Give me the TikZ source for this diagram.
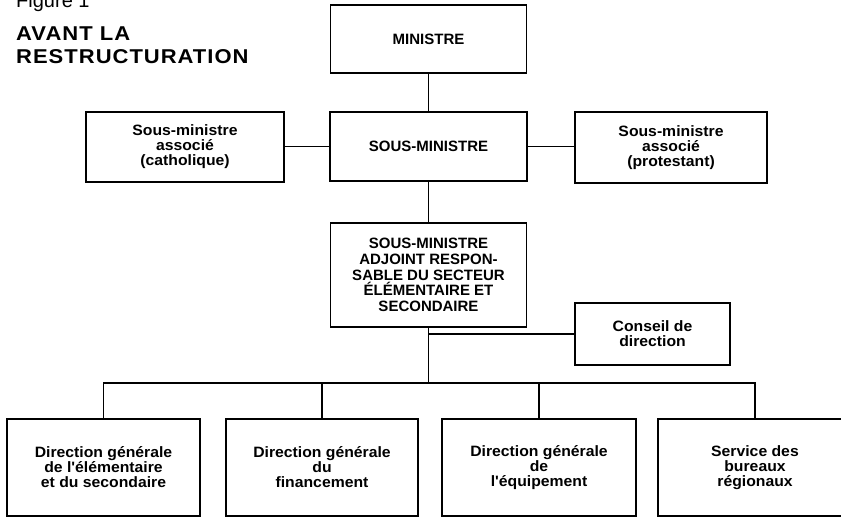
\documentclass[tikz,border=0pt]{standalone}
\usepackage{fontspec}
\setmainfont{Liberation Sans}
\newfontfamily\lcfont[FakeStretch=1.05]{Liberation Sans}
\newfontfamily\ucfont{Liberation Sans}
\newfontfamily\ttlfont[FakeStretch=1.1,LetterSpace=5]{Liberation Sans}
\begin{document}
\begin{tikzpicture}[x=1pt,y=-1pt,
  box/.style={draw, line width=1.9pt, align=center, inner sep=0pt, anchor=center},
  lc/.style={box, font=\lcfont\bfseries\fontsize{15}{15}\selectfont},
  uc/.style={box, font=\ucfont\bfseries\fontsize{15}{15.7}\selectfont},
  conn/.style={line width=1.9pt},
  ttl/.style={anchor=base west, inner sep=0pt}]
\useasboundingbox (0,0) rectangle (841,517);
% titles
\node[ttl, font=\fontsize{20}{20}\selectfont] (fig) at (16,7) {Figure 1};
\node[ttl, font=\ttlfont\bfseries\fontsize{20}{20}\selectfont] (t1) at (16,40) {AVANT LA};
\node[ttl, font=\ttlfont\bfseries\fontsize{20}{20}\selectfont] (t2) at (16,63.5) {RESTRUCTURATION};
% boxes
\node[uc, minimum width=196pt, minimum height=68pt] (min) at (428.5,39) {MINISTRE};
\node[uc, minimum width=197pt, minimum height=69pt] (sm) at (428.5,146.5) {SOUS-MINISTRE};
\node[lc, minimum width=198pt, minimum height=70pt] (smc) at (185,147) {Sous-ministre\\associé\\(catholique)};
\node[lc, minimum width=192pt, minimum height=71pt] (smp) at (671,147.5) {Sous-ministre\\associé\\(protestant)};
\node[uc, minimum width=196pt, minimum height=104pt] (sma) at (428.5,275) {SOUS-MINISTRE\\ADJOINT RESPON-\\SABLE DU SECTEUR\\ÉLÉMENTAIRE ET\\SECONDAIRE};
\node[lc, minimum width=155pt, minimum height=62pt] (cons) at (652.5,334) {Conseil de\\direction};
\node[lc, minimum width=193pt, minimum height=97pt] (b1) at (103.5,467.5) {Direction générale\\de l'élémentaire\\et du secondaire};
\node[lc, minimum width=192pt, minimum height=97pt] (b2) at (322,467.5) {Direction générale\\du\\financement};
\node[lc, minimum width=194pt, minimum height=97pt] (b3) at (539,467.5) {Direction générale\\de\\l'équipement};
\node[lc, minimum width=194pt, minimum height=97pt] (b4) at (755,467.5) {Service des\\bureaux\\régionaux};
% connectors
\coordinate (bus) at (428.5,383);
\draw[conn] (min.south) -- (sm.north);
\draw[conn] (sm.west) -- (sm.west -| smc.east);
\draw[conn] (sm.east) -- (sm.east -| smp.west);
\draw[conn] (sm.south) -- (sma.north);
\draw[conn] (sma.south) -- (bus);
\draw[conn] (sma.south |- cons.west) -- (cons.west);
\draw[conn] (b1.north) |- (bus) -| (b4.north);
\draw[conn] (b2.north) -- (b2.north |- bus);
\draw[conn] (b3.north) -- (b3.north |- bus);
\end{tikzpicture}
\end{document}
